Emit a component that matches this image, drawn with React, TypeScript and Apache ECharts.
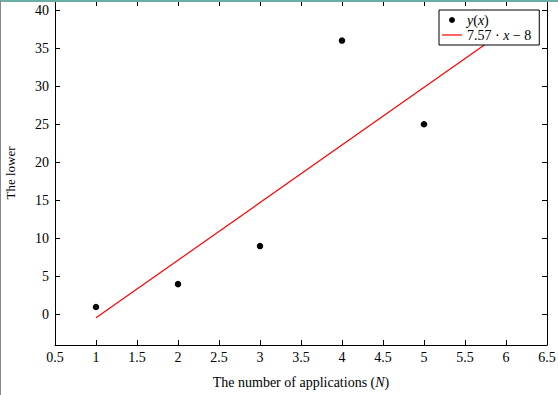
import React, { useEffect, useRef } from "react";
import * as echarts from "echarts";

const pointX = [1, 2, 3, 4, 5];
const pointY = [1, 4, 9, 36, 25];
const fitX = [1, 6];
const fitY = [-0.43, 37.42];
const yTicks = [0, 5, 10, 15, 20, 25, 30, 35, 40];

const FONT = "'Liberation Serif', 'DejaVu Serif', serif";

export default function App() {
  const ref = useRef<HTMLDivElement>(null);
  useEffect(() => {
    if (!ref.current) return;
    const chart = echarts.init(ref.current, null, { renderer: "svg" });
    const axisCommon = {
      axisLine: { show: true, onZero: false, lineStyle: { color: "#000", width: 1 } },
      axisTick: { show: true, inside: true, length: 5, lineStyle: { color: "#000" } },
      splitLine: { show: false },
    };
    const italic14 = { fontFamily: FONT, fontStyle: "italic", fontSize: 14, color: "#000" };
    chart.setOption({
      animation: false,
      textStyle: { fontFamily: FONT },
      grid: { left: 55, right: 11, top: 1, bottom: 50, containLabel: false, outerBoundsMode: "none" },
      graphic: [
        { type: "rect", shape: { x: 0, y: 0, width: 558, height: 2 }, style: { fill: "#6aaea6" }, z: 100 },
        { type: "rect", shape: { x: 0, y: 0, width: 1, height: 395 }, style: { fill: "#8a8a8a" }, z: 100 },
      ],
      legend: {
        left: 439,
        top: 10,
        orient: "vertical",
        padding: [3, 8, 3, 3],
        itemGap: 1,
        itemWidth: 20,
        itemHeight: 6,
        borderColor: "#000",
        borderWidth: 1,
        borderRadius: 0,
        backgroundColor: "#fff",
        data: [
          { name: "y(x)", icon: "circle", itemStyle: { color: "#000" } },
          { name: "fit", icon: "path://M0,0h20v1.2h-20z", symbolKeepAspect: true, itemStyle: { color: "#ff0000" } },
        ],
        formatter: (name: string) =>
          name === "y(x)" ? "{i|y}({i|x})" : "7.57 · {i|x} − 8",
        textStyle: {
          fontFamily: FONT,
          fontSize: 14,
          color: "#000",
          rich: { i: italic14 },
        },
      },
      xAxis: [
        {
          type: "value",
          min: 0.5,
          max: 6.5,
          interval: 0.5,
          position: "bottom",
          ...axisCommon,
          axisLabel: { color: "#000", fontFamily: FONT, fontSize: 14, margin: 5 },
          name: "The number of applications ({i|N})",
          nameLocation: "middle",
          nameGap: 30,
          nameTextStyle: {
            color: "#000",
            fontFamily: FONT,
            fontSize: 14,
            rich: { i: italic14 },
          },
        },
        {
          type: "value",
          min: 0.5,
          max: 6.5,
          interval: 0.5,
          position: "top",
          ...axisCommon,
          axisLabel: { show: false },
        },
      ],
      yAxis: [
        {
          type: "value",
          min: -4,
          max: 41.2,
          position: "left",
          ...axisCommon,
          axisTick: { ...axisCommon.axisTick, customValues: yTicks },
          axisLabel: { color: "#000", fontFamily: FONT, fontSize: 14, margin: 6, customValues: yTicks },
          name: "The lower",
          nameLocation: "middle",
          nameGap: 38,
          nameTextStyle: { color: "#000", fontFamily: FONT, fontSize: 13 },
        },
        {
          type: "value",
          min: -4,
          max: 41.2,
          position: "right",
          ...axisCommon,
          axisTick: { ...axisCommon.axisTick, customValues: yTicks },
          axisLabel: { show: false },
        },
      ],
      series: [
        {
          name: "y(x)",
          type: "scatter",
          symbol: "circle",
          symbolSize: 6.5,
          itemStyle: { color: "#000", opacity: 1 },
          data: pointX.map((x, i) => [x, pointY[i]]),
          z: 3,
        },
        {
          name: "fit",
          type: "line",
          symbol: "none",
          lineStyle: { color: "#ff0000", width: 1.2 },
          itemStyle: { color: "#ff0000" },
          data: fitX.map((x, i) => [x, fitY[i]]),
          z: 2,
        },
      ],
    });
    return () => chart.dispose();
  }, []);
  return <div ref={ref} style={{ width: 558, height: 395, position: "absolute", left: 0, top: 0 }} />;
}
